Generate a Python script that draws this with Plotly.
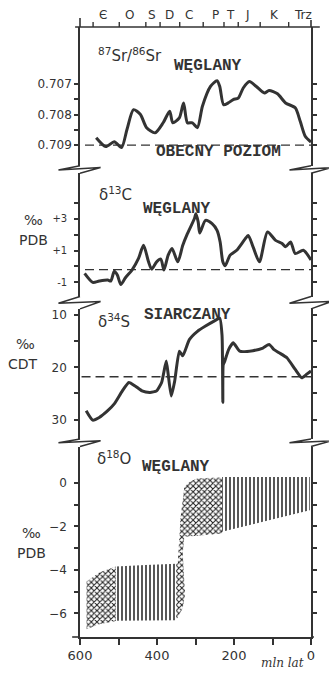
import plotly.graph_objects as go

INK = "#333333"
SANS = "DejaVu Sans"
MONO = "Liberation Mono"

# ---------------- data ----------------
# 87Sr/86Sr (carbonates)
sr_age = [558, 533, 511, 492, 478, 461, 443, 427, 405, 384, 367, 359, 342, 331, 321, 308, 295,
          282, 261, 244, 237, 227, 215, 202, 189, 176, 160, 142, 121, 109, 87, 66, 41, 28, 15, 0]
sr_val = [0.70876, 0.70905, 0.70889, 0.70908, 0.70849, 0.70784, 0.70800, 0.70843, 0.70860,
          0.70827, 0.70789, 0.70827, 0.70811, 0.70762, 0.70827, 0.70827, 0.70843, 0.70773,
          0.70708, 0.70689, 0.70708, 0.70768, 0.70762, 0.70751, 0.70746, 0.70713, 0.70692,
          0.70708, 0.70729, 0.70721, 0.70732, 0.70762, 0.70778, 0.70822, 0.70871, 0.70890]
sr_present = 0.709

# d13C (carbonates)
c_age = [588, 567, 550, 528, 520, 511, 503, 494, 482, 465, 448, 435, 422, 414, 401, 390, 382,
         371, 361, 346, 333, 321, 303, 299, 293, 289, 274, 257, 244, 236, 229, 223, 210, 193,
         172, 163, 150, 134, 113, 92, 75, 66, 53, 41, 20, 0]
c_val = [-0.44, -1.0, -0.92, -0.86, -0.92, -0.3, -0.54, -1.13, -0.71, -0.23, 0.5, 1.33, 0.29,
         -0.17, 0.29, 0.46, -0.23, 0.71, 1.13, 0.29, 1.33, 2.06, 3.0, 3.31, 2.79, 2.1, 2.9,
         2.69, 2.27, 1.54, 0.29, 0.04, 0.71, 1.02, 1.7, 1.95, 1.2, 0.29, 2.17, 1.64, 1.44,
         1.23, 1.54, 0.81, 1.02, 0.4]
c_present = -0.2

# d34S (sulphates)
s_age = [584, 567, 550, 528, 511, 490, 473, 456, 439, 418, 401, 388, 376, 371, 363, 354, 342,
         333, 316, 295, 274, 253, 237, 231, 229, 228, 224, 214, 202, 185, 151, 125, 109, 96,
         83, 62, 41, 24, 11, 0]
s_val = [28.3, 30.1, 29.6, 28.3, 27.0, 24.5, 22.9, 23.6, 24.5, 24.8, 24.5, 22.9, 18.8, 21.3,
         25.5, 22.6, 16.9, 17.8, 14.7, 13.1, 12.1, 11.2, 10.6, 14.0, 26.7, 19.5, 18.8, 16.6,
         15.3, 16.9, 16.8, 16.3, 15.6, 16.6, 17.2, 18.2, 20.4, 22.0, 21.3, 20.7]
s_present = 21.8

# d18O (carbonates) – envelope bands
oa_age = [583, 550, 507]             # dotted, Cambrian
oa_top = [-4.53, -4.12, -3.84]
oa_bot = [-6.73, -6.50, -6.35]

ob_age = [507, 430, 350]             # ruled, Ord.-Dev.
ob_top = [-3.84, -3.78, -3.72]
ob_bot = [-6.33, -6.32, -6.31]

oc_top_age = [350, 346, 339, 329, 316, 295, 231]   # dotted, Carb.-Perm.
oc_top = [-3.72, -3.69, -1.64, -0.20, 0.03, 0.21, 0.24]
oc_bot_age = [350, 333, 327, 329, 333, 329, 295, 231]
oc_bot = [-6.31, -5.75, -5.12, -4.60, -3.24, -2.48, -2.43, -2.33]

od_top_age = [231, 3]                # ruled, Mesozoic-Cenozoic
od_top = [0.26, 0.26]
od_bot_age = [231, 125, 3]
od_bot = [-2.25, -1.79, -1.26]

# geological time scale (top axis)
period_bounds = [566, 498, 429, 392, 341, 280, 226, 189, 132, 58]
period_labels = ["Є", "O", "S", "D", "C", "P", "T", "J", "K", "Trz"]
period_label_age = [541, 471, 412, 367, 317, 248, 210, 165, 96, 20]

# tick labels
x_ticks = [600, 400, 200, 0]
x_minor = [500, 300, 100]
sr_ticks = [0.707, 0.708, 0.709]
sr_minor = [0.7075, 0.7085]
c_ticks = [3, 1, -1]
c_ticktext = ["+3", "+1", "-1"]
c_minor = [4, 2, 0]
s_ticks = [10, 20, 30]
s_minor = [15, 25]
o_ticks = [0, -2, -4, -6]
o_minor = [-1, -3, -5]

# ---------------- layout helpers (pixel -> paper) ----------------
W, H = 329, 675
L, R, T, B = 80, 316, 27, 641


def px(x):
    return (x - L) / (R - L)


def py(y):
    return (B - y) / (B - T)


fig = go.Figure()

curve = dict(color=INK, width=3, shape="spline", smoothing=0.7)
fig.add_trace(go.Scatter(x=sr_age, y=sr_val, mode="lines", line=curve, xaxis="x", yaxis="y"))
fig.add_trace(go.Scatter(x=c_age, y=c_val, mode="lines", line=curve, xaxis="x", yaxis="y2"))
fig.add_trace(go.Scatter(x=s_age, y=s_val, mode="lines", line=dict(color=INK, width=3, shape="spline", smoothing=0.5),
                         xaxis="x", yaxis="y3"))

dots = dict(shape="x", size=4, solidity=0.45, fgcolor="#222222", fgopacity=1, bgcolor="rgba(0,0,0,0)")
rules = dict(shape="|", size=4, solidity=0.38, fgcolor="#222222", fgopacity=1, bgcolor="rgba(0,0,0,0)")


def band(age_t, top, age_b, bot, pat):
    xs = list(age_t) + list(age_b)[::-1] + [age_t[0]]
    ys = list(top) + list(bot)[::-1] + [top[0]]
    fig.add_trace(go.Scatter(x=xs, y=ys, mode="none", fill="toself", fillcolor="rgba(0,0,0,0)",
                             fillpattern=pat, xaxis="x", yaxis="y4", hoverinfo="skip"))


band(oa_age, oa_top, oa_age, oa_bot, dots)
band(ob_age, ob_top, ob_age, ob_bot, rules)
band(oc_top_age, oc_top, oc_bot_age, oc_bot, dots)
band(od_top_age, od_top, od_bot_age, od_bot, rules)

ax_common = dict(showgrid=False, zeroline=False, showline=True, linecolor=INK, linewidth=1.6,
                 ticks="outside", tickcolor=INK, tickwidth=1.5)
yfont = dict(family=SANS, size=12, color=INK)


def minor(vals, ln):
    return dict(tickvals=vals, ticks="outside", ticklen=ln, tickwidth=1.5, tickcolor=INK, showgrid=False)


fig.update_layout(
    width=W, height=H, margin=dict(l=L, r=W - R, t=T, b=H - B),
    paper_bgcolor="white", plot_bgcolor="white", showlegend=False,
    xaxis=dict(**ax_common, domain=[0, 1], range=[600, 0], anchor="y4", ticklen=6,
               tickvals=x_ticks, minor=minor(x_minor, 6),
               tickfont=dict(family=SANS, size=13, color=INK)),
    yaxis=dict(**ax_common, domain=[py(166.7), 1], range=[0.70968, 0.70513], anchor="x",
               mirror="ticks", ticklen=4, tickvals=sr_ticks, tickformat=".3f",
               minor=minor(sr_minor, 4), tickfont=yfont),
    yaxis2=dict(**ax_common, domain=[py(298.3), py(174.3)], range=[-1.894, 5.856], anchor="x",
                mirror="ticks", ticklen=4, tickvals=c_ticks, ticktext=c_ticktext,
                minor=minor(c_minor, 4), ticklabelstandoff=5,
                tickfont=dict(family=SANS, size=10, color=INK)),
    yaxis3=dict(**ax_common, domain=[py(441.7), py(310.7)], range=[33.71, 8.80], anchor="x",
                mirror="ticks", ticklen=4, tickvals=s_ticks, minor=minor(s_minor, 4),
                ticklabelstandoff=5, tickfont=yfont),
    yaxis4=dict(**ax_common, domain=[0, py(449.3)], range=[-7.08, 1.66], anchor="x",
                mirror="ticks", ticklen=4, tickvals=o_ticks, minor=minor(o_minor, 4),
                ticklabelstandoff=5, tickfont=yfont),
)

# present-day reference levels (dashed)
dash = dict(color=INK, width=1.3, dash="9px,5px")
fig.add_shape(type="line", xref="x", yref="y", x0=587, x1=0, y0=sr_present, y1=sr_present, line=dash)
fig.add_shape(type="line", xref="x", yref="y2", x0=587, x1=0, y0=c_present, y1=c_present, line=dash)
fig.add_shape(type="line", xref="x", yref="y3", x0=596, x1=0, y0=s_present, y1=s_present, line=dash)

# axis breaks (zig-zags)
brk = dict(color=INK, width=1.5)
for (ya, ytip, yr, yb) in [(166.7, 171, 168.5, 174.3), (298.3, 305, 303.3, 310.7), (441.7, 445.5, 443.5, 449.3)]:
    for xa in (L, R):
        path = (f"M {px(xa)},{py(ya)} L {px(xa - 22)},{py(ytip)} "
                f"L {px(xa + 21)},{py(yr)} L {px(xa)},{py(yb)}")
        fig.add_shape(type="path", xref="paper", yref="paper", path=path, line=brk)

# top (time-scale) axis line, overshoots and period ticks
for (x0, y0, x1, y1) in [(75, T, 325, T), (L, 18, L, T), (R, 20, R, T),
                         (72, B, L, B), (R, B, 319, B)]:
    fig.add_shape(type="line", xref="paper", yref="paper", x0=px(x0), y0=py(y0), x1=px(x1), y1=py(y1),
                  line=dict(color=INK, width=1.6))
for a in period_bounds:
    fig.add_shape(type="line", xref="x", yref="paper", x0=a, x1=a, y0=py(T), y1=py(T - 5),
                  line=dict(color=INK, width=1.4))


def ann(text, x, y, size=14, family=SANS, xanchor="center", yanchor="middle"):
    fig.add_annotation(text=text, xref="paper", yref="paper", x=px(x), y=py(y), showarrow=False,
                       xanchor=xanchor, yanchor=yanchor, font=dict(family=family, size=size, color=INK))


# period labels
for lab, a in zip(period_labels, period_label_age):
    fig.add_annotation(text=lab, xref="x", yref="paper", x=a, y=py(15), showarrow=False,
                       yanchor="middle", font=dict(family=SANS, size=12, color=INK))

ann("<sup>87</sup>Sr/<sup>86</sup>Sr", 131, 55, 15)
ann("<b>WĘGLANY</b>", 211, 66, 16, MONO)
ann("<b>OBECNY POZIOM</b>", 222, 153, 16, MONO)

ann("δ<sup>13</sup>C", 116, 195, 15)
ann("<b>WĘGLANY</b>", 179, 210, 16, MONO)
ann("‰", 33, 221, 14)
ann("PDB", 33, 241, 14)

ann("δ<sup>34</sup>S", 115, 323, 15)
ann("<b>SIARCZANY</b>", 190, 317, 16, MONO)
ann("‰", 24, 346, 14)
ann("CDT", 22, 366, 14)

ann("δ<sup>18</sup>O", 115, 461, 15)
ann("<b>WĘGLANY</b>", 178, 470, 16, MONO)
ann("‰", 30, 536, 14)
ann("PDB", 30, 556, 14)

ann("<i>mln lat</i>", 287, 667, 12, "DejaVu Serif")

fig.write_html("out.html")
